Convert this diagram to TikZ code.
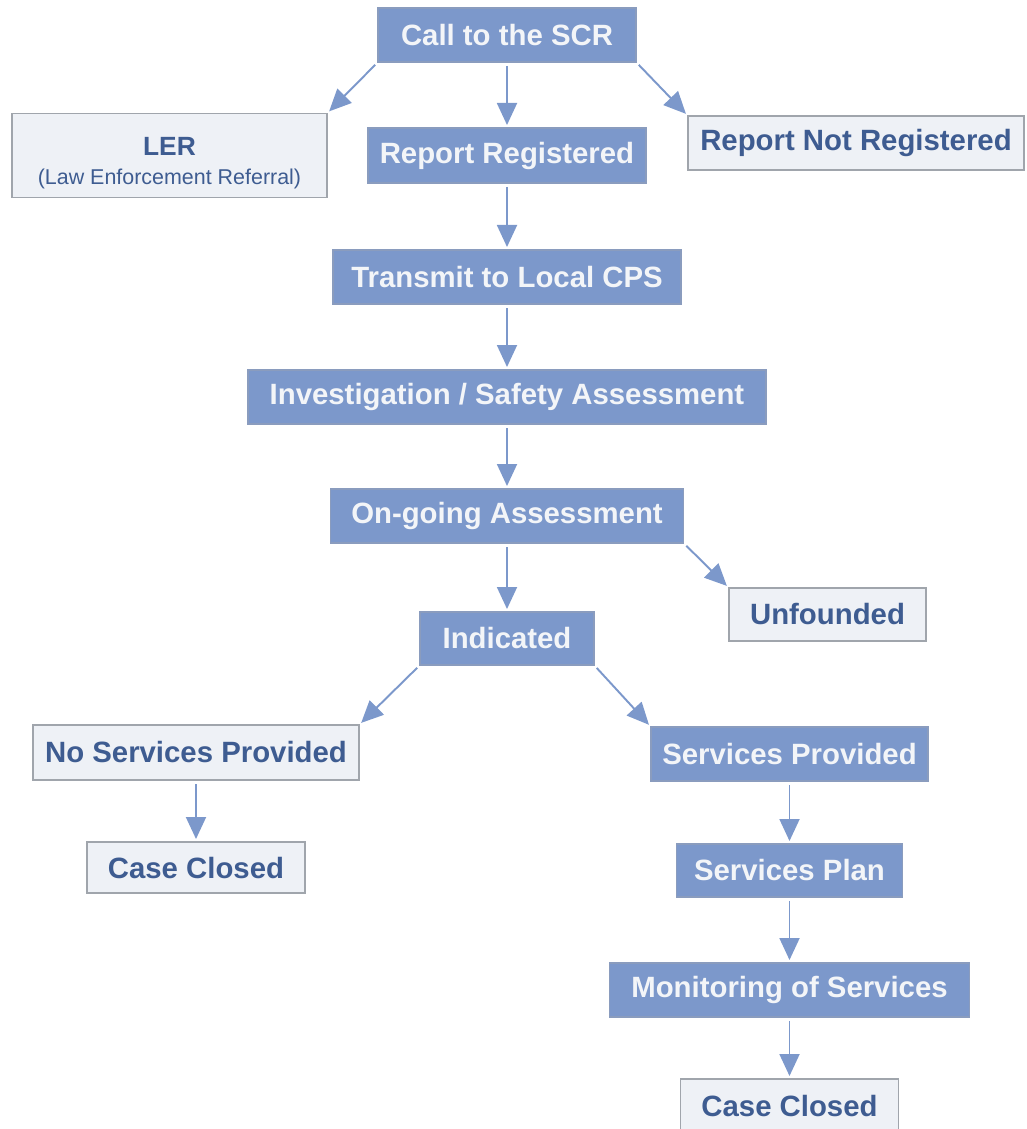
\documentclass[tikz,border=0pt]{standalone}
\usepackage{fontspec}
\setmainfont{Liberation Sans}
\usepackage{xcolor}
\usetikzlibrary{
arrows.meta,
positioning
}
\definecolor{scrblue}{RGB}{124,152,203}
\definecolor{scredge}{RGB}{138,156,190}
\definecolor{boxlight}{RGB}{238,241,246}
\definecolor{boxgray}{RGB}{160,165,172}
\definecolor{boxtext}{RGB}{62,92,145}
\definecolor{boxwhite}{RGB}{243,245,248}
\begin{document}
\begin{tikzpicture}[
    >={Triangle[width=0.4cm,length=0.44cm]},
    every node/.style={rectangle, inner sep=0pt, outer sep=0pt, minimum height=1.08cm,
      font=\fontsize{16.7}{20}\selectfont\bfseries},
    dark/.style={fill=scrblue, draw=scredge, line width=0.6pt, text=boxwhite},
    light/.style={fill=boxlight, draw=boxgray, line width=0.9pt, text=boxtext},
    flow/.style={draw, ->, color=scrblue, line width=1.1pt,
      shorten <=0.08cm, shorten >=0.06cm}]
  \useasboundingbox (0,0) rectangle (20.52,-22.58);
  % main column
  \node[dark, minimum width=5.16cm] (call) at (10.14,-0.70) {Call to the SCR};
  \node[dark, below=1.32cm of call, minimum width=5.56cm, minimum height=1.1cm] (reg) {Report Registered};
  \node[dark, below=1.34cm of reg, minimum width=6.96cm] (cps) {Transmit to Local CPS};
  \node[dark, below=1.32cm of cps, minimum width=10.36cm] (inv) {Investigation / Safety Assessment};
  \node[dark, below=1.30cm of inv, minimum width=7.06cm] (ongo) {On-going Assessment};
  \node[dark, below=1.38cm of ongo, minimum width=3.48cm, minimum height=1.06cm] (ind) {Indicated};
  % side boxes
  \node[light, left=0.82cm of reg, minimum width=6.3cm, minimum height=1.68cm,
    align=center, font=\fontsize{12.2}{17.6}\selectfont] (ler)
    {{\fontsize{15}{18}\selectfont\bfseries\rule{0pt}{19pt}LER}\\[-1.5pt](Law Enforcement Referral)};
  \node[light, right=0.84cm of reg, yshift=0.25cm, minimum width=6.72cm] (notreg) {Report Not Registered};
  \node[light, right=2.7cm of ind, yshift=0.48cm, minimum width=3.94cm, minimum height=1.06cm] (unf) {Unfounded};
  % left branch
  \node[light, below=1.2cm of ind, xshift=-6.22cm, minimum width=6.52cm, minimum height=1.1cm] (nosrv) {No Services Provided};
  \node[light, below=1.24cm of nosrv, minimum width=4.36cm, minimum height=1.02cm] (closedl) {Case Closed};
  % right branch
  \node[dark, below=1.24cm of ind, xshift=5.65cm, minimum width=5.54cm] (srv) {Services Provided};
  \node[dark, below=1.26cm of srv, minimum width=4.52cm, minimum height=1.06cm] (plan) {Services Plan};
  \node[dark, below=1.32cm of plan, minimum width=7.2cm] (mon) {Monitoring of Services};
  \node[light, below=1.24cm of mon, minimum width=4.36cm] (closedr) {Case Closed};
  \path[every edge/.style={flow}]
      (call.south west) edge (ler.north east)
      (call) edge (reg)
      (call.south east) edge (notreg.north west)
      (reg) edge (cps)
      (cps) edge (inv)
      (inv) edge (ongo)
      (ongo) edge (ind)
      (ongo.south east) edge (unf.north west)
      (ind.south west) edge (nosrv.north east)
      (ind.south east) edge (srv.north west)
      (nosrv) edge (closedl)
      (srv) edge (plan)
      (plan) edge (mon)
      (mon) edge (closedr);
\end{tikzpicture}
\end{document}
